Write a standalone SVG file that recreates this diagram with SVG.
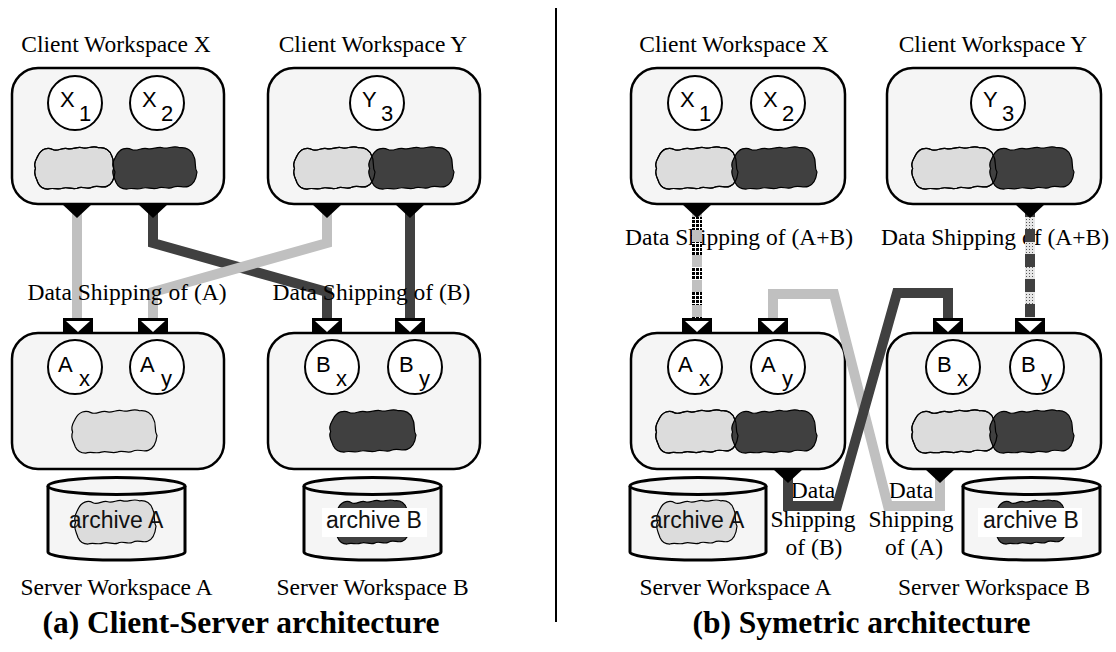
<svg xmlns="http://www.w3.org/2000/svg" xmlns:xlink="http://www.w3.org/1999/xlink" width="1116" height="652" viewBox="0 0 1116 652">
<style>
.lbl{font-family:"Liberation Serif","Times New Roman",serif;font-size:23.5px;fill:#000;text-anchor:middle}
.ttl{font-family:"Liberation Serif","Times New Roman",serif;font-size:31.5px;font-weight:bold;fill:#000;text-anchor:middle}
.cl{font-family:"Liberation Sans",Arial,sans-serif;font-size:22px;fill:#000}
.arc{font-family:"Liberation Sans",Arial,sans-serif;font-size:23px;fill:#111;text-anchor:middle}
.box{fill:#f5f5f5;stroke:#000;stroke-width:2.5}
.cir{fill:#fff;stroke:#000;stroke-width:2}
.cyl{fill:#f5f5f5;stroke:#000;stroke-width:3}
.light{fill:#dcdcdc;stroke:#000;stroke-width:1.2}
.dark{fill:#404040;stroke:#000;stroke-width:1.2}
.edge{fill:none;stroke:#000;stroke-width:1.2}
.ln{fill:none;stroke-width:10;stroke-linejoin:miter;stroke-miterlimit:10}
.lg{stroke:#c0c0c0}
.dg{stroke:#404040}
</style>
<defs>
<path id="blob" vector-effect="non-scaling-stroke" d="M6,12 C10,4 18,2 24,5 C30,8 36,2 42,4 C48,6 54,1 60,3 C66,5 72,0 80,3 C88,2 94,6 96,12 C100,18 96,24 100,30 C99,38 96,44 90,46 C84,48 78,44 72,47 C66,50 60,45 54,48 C48,50 42,46 36,48 C30,50 24,47 18,49 C12,49 8,46 6,42 C4,36 0,32 3,26 C0,20 4,16 6,12 Z"/>
<g id="outArr"><polygon points="-15,0 15,0 0,14" fill="#000"/></g>
<g id="inArr"><rect x="-15" y="0" width="30" height="14" fill="#000"/><polygon points="-12,3 12,3 0,14" fill="#fff"/></g>
<pattern id="hatchDark" patternUnits="userSpaceOnUse" width="4" height="4"><rect width="4" height="4" fill="#fff"/><rect width="3" height="3" fill="#000"/></pattern>
<pattern id="dotLight" patternUnits="userSpaceOnUse" width="3" height="3"><rect width="3" height="3" fill="#e6e6e6"/><rect width="1" height="1" fill="#555"/></pattern>
</defs>
<rect width="1116" height="652" fill="#fff"/>

<line x1="556" y1="8" x2="556" y2="622" stroke="#000" stroke-width="2"/>

<!-- ===== (a) Client-Server ===== -->
<g id="a-client-x">
<text class="lbl" x="116" y="52">Client Workspace X</text>
<rect class="box" x="12" y="68" width="212" height="136" rx="26"/>
<circle class="cir" cx="75" cy="103" r="27"/>
<text class="cl" x="60" y="107">X</text><text class="cl" x="79" y="121">1</text>
<circle class="cir" cx="157" cy="103" r="27"/>
<text class="cl" x="142" y="107">X</text><text class="cl" x="161" y="121">2</text>
<use href="#blob" class="light" transform="translate(33,145) scale(0.82,0.9)"/>
<use href="#blob" class="dark" transform="translate(111,145) scale(0.86,0.9)"/>
<use href="#blob" class="edge" transform="translate(33,145) scale(0.82,0.9)"/>
</g>
<g id="a-client-y">
<text class="lbl" x="373" y="52">Client Workspace Y</text>
<rect class="box" x="268" y="68" width="212" height="136" rx="26"/>
<circle class="cir" cx="377" cy="103" r="27"/>
<text class="cl" x="362" y="107">Y</text><text class="cl" x="381" y="121">3</text>
<use href="#blob" class="light" transform="translate(292,145) scale(0.83,0.9)"/>
<use href="#blob" class="dark" transform="translate(367,145) scale(0.87,0.9)"/>
<use href="#blob" class="edge" transform="translate(292,145) scale(0.83,0.9)"/>
</g>
<g id="a-server-a">
<rect class="box" x="12" y="333" width="212" height="136" rx="26"/>
<circle class="cir" cx="75" cy="367" r="27"/>
<text class="cl" x="58" y="372">A</text><text class="cl" x="79" y="386">x</text>
<circle class="cir" cx="157" cy="367" r="27"/>
<text class="cl" x="140" y="372">A</text><text class="cl" x="161" y="386">y</text>
<use href="#blob" class="light" transform="translate(70,408) scale(0.87,0.92)"/>
<path class="cyl" d="M48,486 V552 A68.5,8 0 0 0 185,552 V486"/>
<ellipse class="cyl" cx="116.5" cy="486" rx="68.5" ry="8.5"/>
<use href="#blob" class="light" transform="translate(73,498) scale(0.83,0.94)"/>
<text class="arc" x="116" y="528">archive A</text>
<text class="lbl" x="116.5" y="595">Server Workspace A</text>
</g>
<g id="a-server-b">
<rect class="box" x="268" y="333" width="212" height="136" rx="26"/>
<circle class="cir" cx="332" cy="367" r="27"/>
<text class="cl" x="316" y="372">B</text><text class="cl" x="336" y="386">x</text>
<circle class="cir" cx="415" cy="367" r="27"/>
<text class="cl" x="399" y="372">B</text><text class="cl" x="419" y="386">y</text>
<use href="#blob" class="dark" transform="translate(328,408) scale(0.88,0.9)"/>
<path class="cyl" d="M304,486 V552 A68.5,8 0 0 0 441,552 V486"/>
<ellipse class="cyl" cx="372.5" cy="486" rx="68.5" ry="8.5"/>
<use href="#blob" class="dark" transform="translate(333,498) scale(0.77,0.94)"/>
<rect x="322" y="508" width="105" height="29" fill="#fff"/>
<text class="arc" x="374" y="528">archive B</text>
<text class="lbl" x="372.5" y="595">Server Workspace B</text>
</g>
<text class="ttl" x="241" y="633">(a) Client-Server architecture</text>

<!-- ===== (b) Symetric ===== -->
<g id="b-client-x">
<text class="lbl" x="734" y="52">Client Workspace X</text>
<rect class="box" x="631" y="68" width="214" height="136" rx="26"/>
<circle class="cir" cx="695" cy="103" r="27"/>
<text class="cl" x="680" y="107">X</text><text class="cl" x="699" y="121">1</text>
<circle class="cir" cx="778" cy="103" r="27"/>
<text class="cl" x="763" y="107">X</text><text class="cl" x="782" y="121">2</text>
<use href="#blob" class="light" transform="translate(654,145) scale(0.84,0.9)"/>
<use href="#blob" class="dark" transform="translate(730,145) scale(0.87,0.9)"/>
<use href="#blob" class="edge" transform="translate(654,145) scale(0.84,0.9)"/>
</g>
<g id="b-client-y">
<text class="lbl" x="993" y="52">Client Workspace Y</text>
<rect class="box" x="887" y="68" width="214" height="136" rx="26"/>
<circle class="cir" cx="998" cy="103" r="27"/>
<text class="cl" x="983" y="107">Y</text><text class="cl" x="1002" y="121">3</text>
<use href="#blob" class="light" transform="translate(910,145) scale(0.87,0.9)"/>
<use href="#blob" class="dark" transform="translate(988,145) scale(0.86,0.9)"/>
<use href="#blob" class="edge" transform="translate(910,145) scale(0.87,0.9)"/>
</g>
<g id="b-server-a">
<rect class="box" x="631" y="333" width="214" height="136" rx="26"/>
<circle class="cir" cx="695" cy="367" r="27"/>
<text class="cl" x="678" y="372">A</text><text class="cl" x="699" y="386">x</text>
<circle class="cir" cx="778" cy="367" r="27"/>
<text class="cl" x="761" y="372">A</text><text class="cl" x="782" y="386">y</text>
<use href="#blob" class="light" transform="translate(654,408) scale(0.84,0.92)"/>
<use href="#blob" class="dark" transform="translate(730,408) scale(0.87,0.92)"/>
<use href="#blob" class="edge" transform="translate(654,408) scale(0.84,0.92)"/>
<path class="cyl" d="M630,486 V552 A68,8 0 0 0 766,552 V486"/>
<ellipse class="cyl" cx="698" cy="486" rx="68" ry="8.5"/>
<use href="#blob" class="light" transform="translate(655,498) scale(0.82,0.94)"/>
<text class="arc" x="697" y="528">archive A</text>
<text class="lbl" x="735.5" y="595">Server Workspace A</text>
</g>
<g id="b-server-b">
<rect class="box" x="887" y="333" width="214" height="136" rx="26"/>
<circle class="cir" cx="953" cy="367" r="27"/>
<text class="cl" x="937" y="372">B</text><text class="cl" x="957" y="386">x</text>
<circle class="cir" cx="1037" cy="367" r="27"/>
<text class="cl" x="1021" y="372">B</text><text class="cl" x="1041" y="386">y</text>
<use href="#blob" class="light" transform="translate(910,408) scale(0.87,0.92)"/>
<use href="#blob" class="dark" transform="translate(988,408) scale(0.86,0.92)"/>
<use href="#blob" class="edge" transform="translate(910,408) scale(0.87,0.92)"/>
<path class="cyl" d="M963,486 V552 A68.5,8 0 0 0 1100,552 V486"/>
<ellipse class="cyl" cx="1031.5" cy="486" rx="68.5" ry="8.5"/>
<use href="#blob" class="dark" transform="translate(993,498) scale(0.74,0.94)"/>
<rect x="978" y="508" width="104" height="29" fill="#fff"/>
<text class="arc" x="1031" y="528">archive B</text>
<text class="lbl" x="994" y="595">Server Workspace B</text>
</g>
<text class="ttl" x="861.5" y="633">(b) Symetric architecture</text>

<!-- ===== connectors ===== -->
<g id="connectors">
<!-- (a) -->
<path class="ln dg" d="M153,212 V243 L327,292 V318"/>
<path class="ln dg" d="M410,212 V318"/>
<path class="ln lg" d="M77,212 V318"/>
<path class="ln lg" d="M327,212 V243 L153,292 V318"/>
<text class="lbl" x="127" y="300">Data Shipping of (A)</text>
<text class="lbl" x="371.5" y="300">Data Shipping of (B)</text>
<use href="#outArr" x="77" y="204"/><use href="#outArr" x="153" y="204"/>
<use href="#outArr" x="327" y="204"/><use href="#outArr" x="410" y="204"/>
<use href="#inArr" x="78" y="318"/><use href="#inArr" x="153" y="318"/>
<use href="#inArr" x="327" y="318"/><use href="#inArr" x="410" y="318"/>
<!-- (b) -->
<text class="lbl" x="739" y="245">Data Shipping of (A+B)</text>
<text class="lbl" x="995" y="245">Data Shipping of (A+B)</text>
<text class="lbl" x="813" y="498">Data</text>
<text class="lbl" x="813" y="527">Shipping</text>
<text class="lbl" x="814" y="555">of (B)</text>
<text class="lbl" x="911" y="498">Data</text>
<text class="lbl" x="911" y="527">Shipping</text>
<text class="lbl" x="914" y="555">of (A)</text>
<path class="ln lg" d="M697,212 V318"/>
<path fill="none" stroke="url(#hatchDark)" stroke-width="10" stroke-dasharray="13 12" stroke-dashoffset="-5" d="M697,212 V318"/>
<path class="ln dg" d="M1030,212 V318"/>
<path fill="none" stroke="url(#dotLight)" stroke-width="10" stroke-dasharray="12 13" stroke-dashoffset="-5" d="M1030,212 V318"/>
<path class="ln lg" d="M773,318 V294 H834 L888,506 H940 V475"/>
<path class="ln dg" d="M788,475 V506 H837 L897,293 H948 V318"/>
<use href="#outArr" x="697" y="204"/><use href="#outArr" x="1030" y="204"/>
<use href="#outArr" x="788" y="469"/><use href="#outArr" x="940" y="469"/>
<use href="#inArr" x="697" y="318"/><use href="#inArr" x="773" y="318"/>
<use href="#inArr" x="948" y="318"/><use href="#inArr" x="1030" y="318"/>
</g>
</svg>
